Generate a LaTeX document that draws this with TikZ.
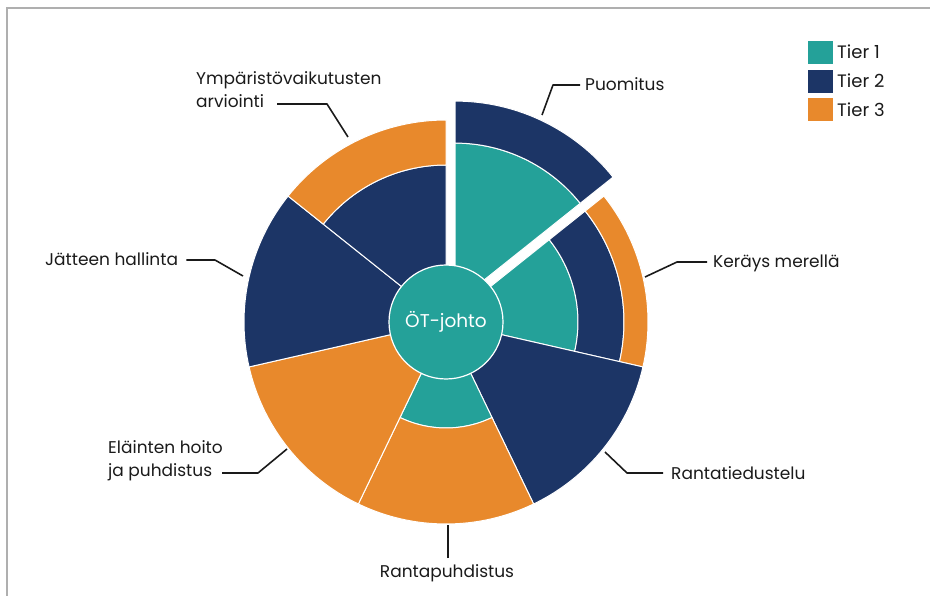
\documentclass[tikz,border=0pt]{standalone}
\usepackage{fontspec}
\setmainfont{Poppins}
\definecolor{tealc}{HTML}{24A199}
\definecolor{navyc}{HTML}{1C3566}
\definecolor{orangec}{HTML}{E8892C}
\definecolor{inkc}{HTML}{1A1A1A}
\definecolor{framec}{HTML}{AFAFAF}

\tikzset{
  ring/.style={draw=white, line width=1pt, line join=round},
  lbl/.style={font=\fontsize{17}{23}\selectfont, text=inkc, inner sep=0pt, align=left},
  keytext/.style={font=\fontsize{18}{20}\selectfont, text=inkc, inner sep=0pt},
  leader/.style={draw=inkc, line width=1.6pt, line join=round},
  swatch/.style={minimum width=25pt, minimum height=23pt, inner sep=0pt},
}

% annular sector: colour, start angle, end angle, inner radius, outer radius
\newcommand{\annsec}[5]{%
  \path[ring, fill=#1] (#2:#4) arc[start angle=#2, end angle=#3, radius=#4]
    -- (#3:#5) arc[start angle=#3, end angle=#2, radius=#5] -- cycle;}
% full sector from the hub: colour, start angle, end angle, radius
\newcommand{\piesec}[4]{%
  \path[ring, fill=#1] (0,0) -- (#2:#4) arc[start angle=#2, end angle=#3, radius=#4] -- cycle;}

\begin{document}
\begin{tikzpicture}[x=1pt, y=-1pt]
\useasboundingbox (0,0) rectangle (930,596);

% frame
\draw[framec, line width=1.5pt] (7,596) -- (7,8) -- (930,8);

\begin{scope}[shift={(446,322)}, y=1pt]
  % Keräys merellä
  \piesec{tealc}{38.571}{-12.857}{132}
  \annsec{navyc}{38.571}{-12.857}{132}{178}
  \annsec{orangec}{38.571}{-12.857}{178}{202}
  % Rantatiedustelu
  \piesec{navyc}{-12.857}{-64.286}{202}
  % Rantapuhdistus
  \piesec{tealc}{-64.286}{-115.714}{106}
  \annsec{orangec}{-64.286}{-115.714}{106}{202}
  % Eläinten hoito ja puhdistus
  \piesec{orangec}{-115.714}{-167.143}{202}
  % Jätteen hallinta
  \piesec{navyc}{-167.143}{-218.571}{202}
  % Ympäristövaikutusten arviointi
  \piesec{navyc}{141.429}{90}{157}
  \annsec{orangec}{141.429}{90}{157}{202}
  % Puomitus, pulled out of the pie
  \begin{scope}[shift={(64.286:21)}]
    \piesec{tealc}{90}{38.571}{160}
    \annsec{navyc}{90}{38.571}{160}{202}
  \end{scope}
  % hub
  \node[circle, fill=tealc, draw=white, line width=1.2pt, minimum size=114pt,
        inner sep=0pt, text=white, font=\fontsize{18.5}{20}\selectfont] (hub) at (0,0) {ÖT-johto};
\end{scope}

% leader end points on the rim and their bends
\coordinate (puoE) at (542,115);  \coordinate (puoK) at (553,85);
\coordinate (kerE) at (645,277);  \coordinate (kerK) at (677,262);
\coordinate (rtiE) at (605,452);  \coordinate (rtiK) at (627,473);
\coordinate (rpuE) at (448,525);  \coordinate (rpuS) at (448,558);
\coordinate (elaE) at (287,449);  \coordinate (elaK) at (258,473);
\coordinate (jatE) at (243,276);  \coordinate (jatK) at (215,260);
\coordinate (ympE) at (348,137);  \coordinate (ympK) at (327,104);
\coordinate (ympS) at (277,104);

% labels (two-line labels sit on the baseline of their last line)
\node[lbl, anchor=base west] (puo) at (585,91) {Puomitus};
\node[lbl, anchor=base west] (ker) at (713,268) {Keräys merellä};
\node[lbl, anchor=base west] (rti) at (671,479) {Rantatiedustelu};
\node[lbl, anchor=base] (rpu) at (447,577) {Rantapuhdistus};
\node[lbl, anchor=base west] (ela) at (108,476) {Eläinten hoito\\ja puhdistus};
\node[lbl, anchor=base west] (jat) at (45,266) {Jätteen hallinta};
\node[lbl, anchor=base west] (ymp) at (196,108) {Ympäristövaikutusten\\arviointi};

% leaders
\draw[leader] (puo.west |- puoK) ++(-5,0) -- (puoK) -- (puoE);
\draw[leader] (ker.west |- kerK) ++(-6,0) -- (kerK) -- (kerE);
\draw[leader] (rti.west |- rtiK) ++(-8,0) -- (rtiK) -- (rtiE);
\draw[leader] (rpuS) -- (rpuE);
\draw[leader] (222,473) -- (elaK) -- (elaE);
\draw[leader] (jat.east |- jatK) ++(8,0) -- (jatK) -- (jatE);
\draw[leader] (ympS) -- (ympK) -- (ympE);

% legend
\node[swatch, fill=tealc, anchor=north west] (sw1) at (808,41) {};
\node[swatch, fill=navyc, anchor=north west] (sw2) at (808,69.5) {};
\node[swatch, fill=orangec, anchor=north west] (sw3) at (808,98) {};
\node[keytext, anchor=base west] (t1) at (837,59) {Tier 1};
\node[keytext, anchor=base west] (t2) at (837,88) {Tier 2};
\node[keytext, anchor=base west] (t3) at (837,117) {Tier 3};
\end{tikzpicture}
\end{document}
